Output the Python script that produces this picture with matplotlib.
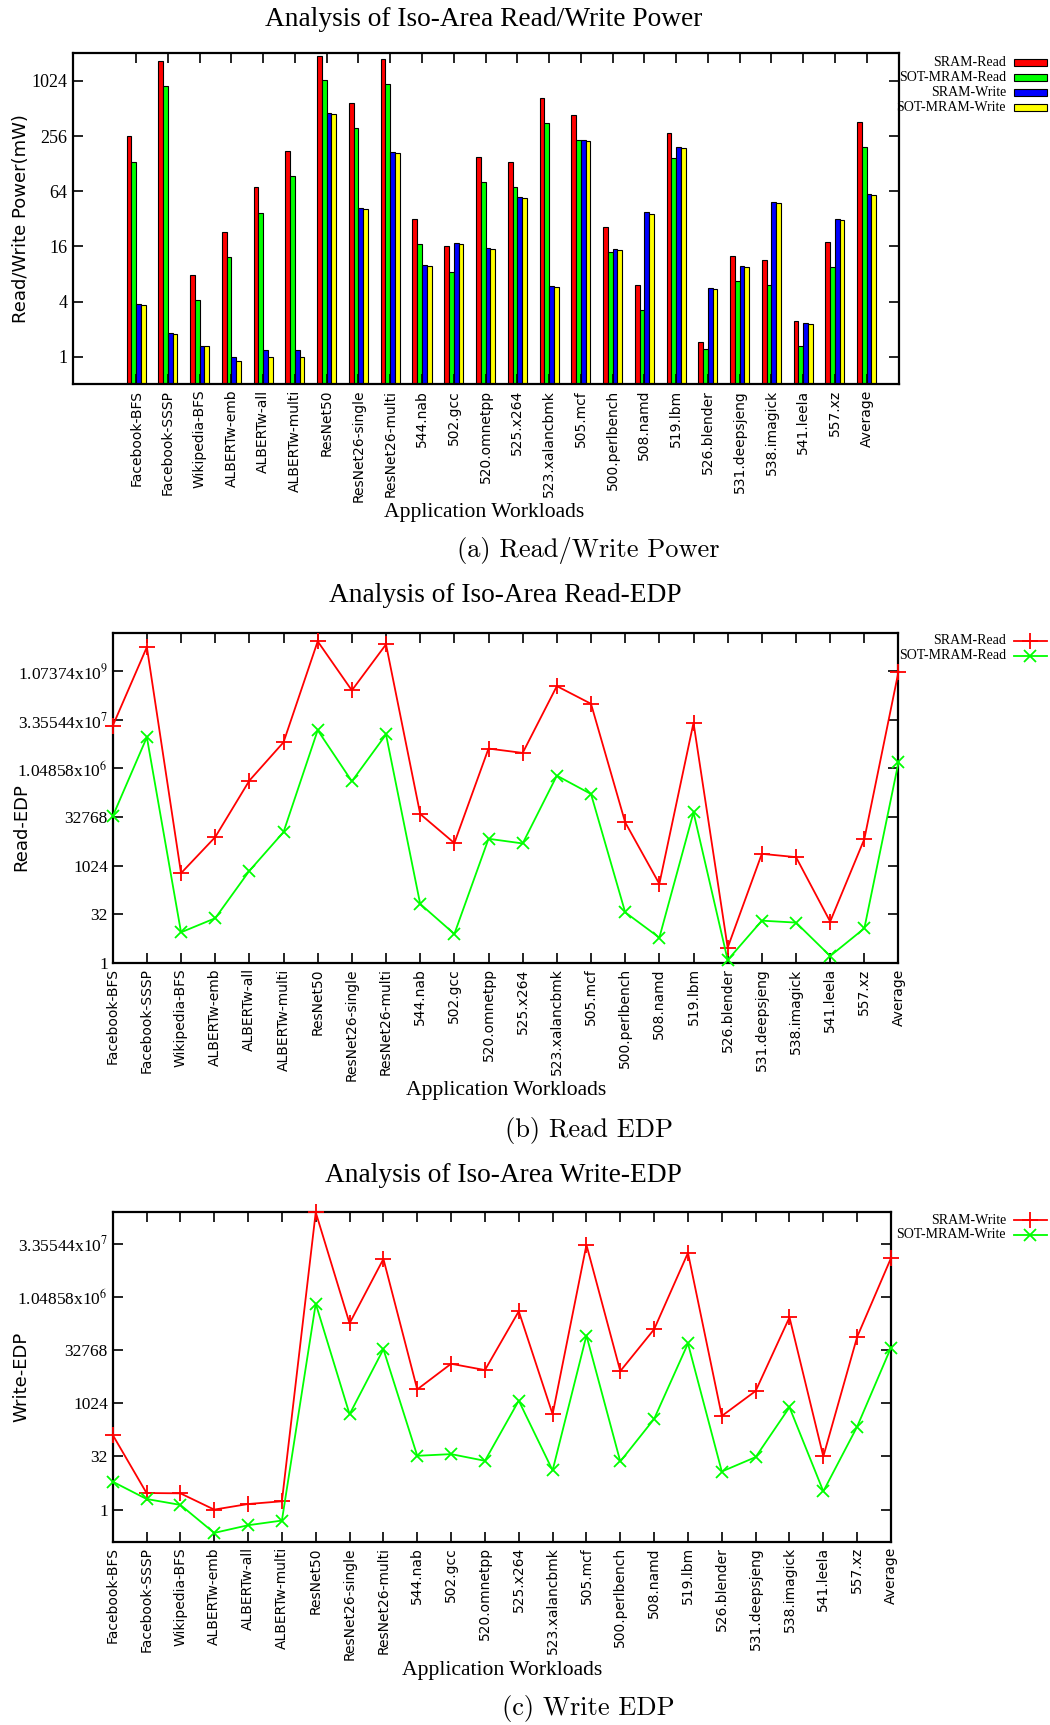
import matplotlib
matplotlib.use("Agg")
import matplotlib.pyplot as plt
import numpy as np
from matplotlib.patches import Rectangle
from matplotlib.lines import Line2D

plt.rcParams['mathtext.fontset'] = 'stix'

workloads = ["Facebook-BFS", "Facebook-SSSP", "Wikipedia-BFS", "ALBERTw-emb", "ALBERTw-all",
             "ALBERTw-multi", "ResNet50", "ResNet26-single", "ResNet26-multi", "544.nab",
             "502.gcc", "520.omnetpp", "525.x264", "523.xalancbmk", "505.mcf", "500.perlbench",
             "508.namd", "519.lbm", "526.blender", "531.deepsjeng", "538.imagick", "541.leela",
             "557.xz", "Average"]

# power (mW)
sram_read = [255, 1695, 7.85, 23.1, 70.6, 177, 1934, 594, 1780, 32.2, 16, 153, 135, 668,
             436, 26, 6.1, 277, 1.43, 12.7, 11.5, 2.47, 17.9, 362]
sot_read = [134, 896, 4.16, 12.3, 37.1, 93, 1042, 316, 949, 17, 8.5, 81, 71.2, 356,
            230, 13.9, 3.23, 146, 1.22, 6.64, 6.06, 1.30, 9.5, 193]
sram_write = [3.76, 1.81, 1.30, 1.0, 1.19, 1.19, 458, 42, 172, 10.0, 17.6, 15.4, 55.4, 5.97,
              230, 15, 37.7, 196, 5.67, 9.85, 49.2, 2.35, 31.9, 60.2]
sot_write = [3.7, 1.77, 1.30, 0.90, 1.0, 1.0, 446, 41, 168, 9.8, 17.2, 15.0, 54, 5.8,
             226, 14.7, 36.5, 191, 5.5, 9.5, 47.6, 2.3, 31, 58]

# read EDP
sram_read_edp = [2.18e7, 6.07e9, 596, 7810, 4.41e5, 6.81e6, 9.14e9, 2.76e8, 7.37e9, 40600,
                 5110, 4.34e6, 3.18e6, 3.74e8, 1.06e8, 22400, 278, 2.73e7, 2.93, 2370,
                 1870, 18.8, 6800, 1.05e9]
sot_read_edp = [34400, 9.77e6, 8.75, 23.9, 704, 11200, 1.61e7, 4.20e5, 1.186e7, 66.3,
                7.78, 6940, 4970, 6.28e5, 1.69e5, 36.5, 5.98, 45700, 1.21, 20.1,
                17.5, 1.61, 11.6, 1.63e6]

# write EDP
sram_write_edp = [131, 2.95, 2.89, 1.0, 1.44, 1.72, 2.63e8, 1.89e5, 1.26e7, 2540,
                  13500, 8960, 4.14e5, 502, 3.15e7, 8360, 1.28e5, 1.87e7, 449, 2290,
                  2.79e5, 32, 77900, 1.33e7]
sot_write_edp = [6.19, 2.0, 1.36, 0.219, 0.361, 0.49, 6.82e5, 502, 34900, 33.4,
                 37.3, 24.1, 1218, 12.9, 85300, 23.1, 370, 50700, 12.0, 30.7,
                 792, 3.29, 224, 39000]

edp_ticks = [1, 32, 1024, 32768, 2**20, 2**25, 2**30]
edp_labels = ["1", "32", "1024", "32768", r"1.04858x10$^{6}$", r"3.35544x10$^{7}$",
              r"1.07374x10$^{9}$"]

W, H = 1050, 1725
fig = plt.figure(figsize=(W / 100, H / 100), dpi=100)

serif = "Liberation Serif"
sans = "DejaVu Sans"


def box(left, top, right, bottom):
    return [left / W, 1 - bottom / H, (right - left) / W, (bottom - top) / H]


def fx(x):
    return x / W


def fy(y):
    return 1 - y / H


def style_axes(ax, ysize=12.5):
    for s in ax.spines.values():
        s.set_linewidth(1.6)
    ax.tick_params(direction="in", length=7, width=1.2, top=True, right=True,
                   which="major")
    ax.tick_params(which="minor", left=False, right=False, top=False, bottom=False)
    ax.tick_params(axis="x", labelrotation=90, pad=4)
    for lab in ax.get_xticklabels():
        lab.set_fontfamily(sans)
        lab.set_fontsize(10)
    for lab in ax.get_yticklabels():
        lab.set_fontfamily(serif)
        lab.set_fontsize(ysize)


# ---- (a) power bars ----
ax1 = fig.add_axes(box(72.6, 53.3, 898.5, 384.3))
x = np.arange(len(workloads))
bw = 0.15
ybase = 0.5
series = [(sram_read, "#ff0000", "SRAM-Read"), (sot_read, "#00ff00", "SOT-MRAM-Read"),
          (sram_write, "#0000ff", "SRAM-Write"), (sot_write, "#ffff00", "SOT-MRAM-Write")]
for i, (vals, col, name) in enumerate(series):
    v = np.array(vals)
    ax1.bar(x + (i - 1.5) * bw, v - ybase, bottom=ybase, width=bw, color=col,
            edgecolor="black", linewidth=0.8)
ax1.set_yscale("log", base=2)
ax1.set_ylim(0.5, 2048)
ax1.set_xlim(-2, 24)
ax1.set_yticks([1, 4, 16, 64, 256, 1024])
ax1.set_yticklabels(["1", "4", "16", "64", "256", "1024"])
ax1.set_xticks(x)
ax1.set_xticklabels(workloads)
style_axes(ax1, 13)
ax1.set_ylabel("Read/Write Power(mW)", fontfamily=sans, fontsize=13)
ax1.yaxis.set_label_coords((30 - 72.6) / (898.5 - 72.6), 0.5)
fig.text(fx(484), fy(19), "Analysis of Iso-Area Read/Write Power", ha="center",
         va="center", fontfamily=serif, fontsize=19.7)
fig.text(fx(484), fy(513), "Application Workloads", ha="center", va="center",
         fontfamily=serif, fontsize=15.6)
fig.text(fx(588), fy(551), "(a) Read/Write Power", ha="center", va="center",
         fontfamily="cmr10", fontsize=19)

for (vals, col, name), yy in zip(series, [62.5, 77.5, 92.5, 107.5]):
    fig.text(fx(1006), fy(yy), name, ha="right", va="center", fontfamily=serif, fontsize=10)
    fig.patches.append(Rectangle((fx(1014), fy(yy + 3.5)), (1047 - 1014) / W, 7 / H,
                                 transform=fig.transFigure, facecolor=col,
                                 edgecolor="black", linewidth=0.8))


def edp_panel(rect, sram, sot, ylim, ticks, labels, ylabel, label_y, title, title_xy,
              names, leg_y, xlabel_xy, caption, caption_xy):
    ax = fig.add_axes(box(*rect))
    ax.plot(x, sram, color="#ff0000", marker="+", markersize=11, mew=1.3, lw=1.3,
            clip_on=False, zorder=3)
    ax.plot(x, sot, color="#00ff00", marker="x", markersize=9, mew=1.3, lw=1.3,
            clip_on=False, zorder=3)
    ax.set_yscale("log", base=2)
    ax.set_ylim(*ylim)
    ax.set_xlim(0, len(workloads) - 1)
    ax.set_yticks(ticks)
    ax.set_yticklabels(labels)
    ax.set_xticks(x)
    ax.set_xticklabels(workloads)
    style_axes(ax)
    ax.set_ylabel(ylabel, fontfamily=sans, fontsize=13)
    ax.yaxis.set_label_coords((30 - rect[0]) / (rect[2] - rect[0]), label_y)
    fig.text(fx(title_xy[0]), fy(title_xy[1]), title, ha="center", va="center",
             fontfamily=serif, fontsize=19.7)
    fig.text(fx(xlabel_xy[0]), fy(xlabel_xy[1]), "Application Workloads", ha="center",
             va="center", fontfamily=serif, fontsize=15.6)
    fig.text(fx(caption_xy[0]), fy(caption_xy[1]), caption, ha="center", va="center",
             fontfamily="cmr10", fontsize=19)
    for name, yy, col, mk, ms in zip(names, leg_y, ["#ff0000", "#00ff00"], ["+", "x"], [11, 9]):
        fig.text(fx(1006), fy(yy), name, ha="right", va="center", fontfamily=serif,
                 fontsize=10)
        fig.lines.append(Line2D([fx(1014), fx(1047)], [fy(yy), fy(yy)], color=col, lw=1.3,
                                transform=fig.transFigure))
        fig.lines.append(Line2D([fx(1030)], [fy(yy)], color=col, marker=mk, markersize=ms,
                                mew=1.3, transform=fig.transFigure))
    return ax


# ---- (b) read EDP ----
edp_panel((112.7, 632.5, 898.5, 962.7), sram_read_edp, sot_read_edp, (1, 2**34),
          edp_ticks, edp_labels, "Read-EDP", 0.41, "Analysis of Iso-Area Read-EDP", (505, 596),
          ["SRAM-Read", "SOT-MRAM-Read"], [641, 655.5], (506, 1091),
          "(b) Read EDP", (589, 1130))

# ---- (c) write EDP ----
edp_panel((112.7, 1212, 891, 1541.5), sram_write_edp, sot_write_edp, (2**-3, 2**28),
          edp_ticks[:-1], edp_labels[:-1], "Write-EDP", 0.5, "Analysis of Iso-Area Write-EDP",
          (503, 1176), ["SRAM-Write", "SOT-MRAM-Write"], [1220, 1234.5], (502, 1670),
          "(c) Write EDP", (588, 1708))

fig.savefig("out.png", dpi=100)
